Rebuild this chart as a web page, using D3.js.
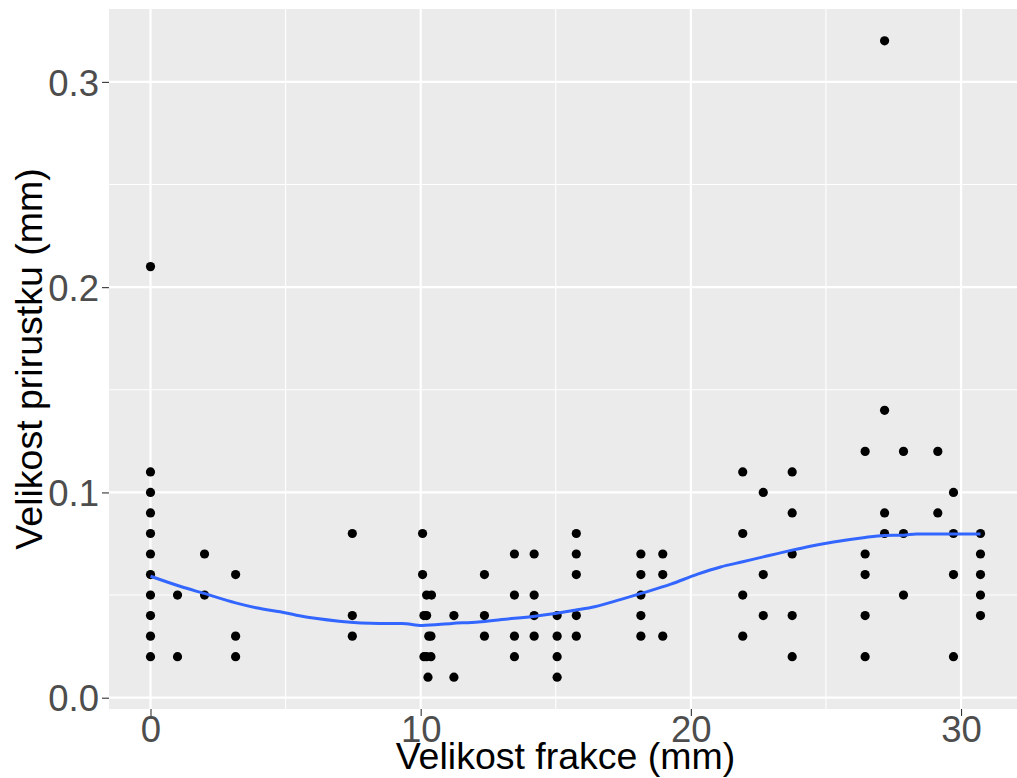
<!DOCTYPE html>
<html>
<head>
<meta charset="utf-8">
<script src="https://cdn.jsdelivr.net/npm/d3@7"></script>
<style>
  html, body { margin: 0; padding: 0; background: #fff; }
  svg { display: block; font-family: "Liberation Sans", Arial, sans-serif; }
</style>
</head>
<body>
<svg width="1017" height="778"></svg>
<script>
var width = 1017;
var height = 778;

// velikost frakce (mm) and velikost prirustku (mm), paired by index
var frakce = [
  0, 0, 0, 0, 0, 0, 0, 0, 0, 0, 0,
  1.0, 1.0,
  2.0, 2.0,
  3.15, 3.15, 3.15,
  7.47, 7.47, 7.47,
  10.07, 10.07, 10.12, 10.12, 10.22, 10.22, 10.22, 10.4, 10.3, 10.38, 10.38, 10.27,
  11.23, 11.23,
  12.36, 12.36, 12.36,
  13.47, 13.47, 13.47, 13.47,
  14.2, 14.2, 14.2, 14.2,
  15.05, 15.05, 15.05, 15.05,
  15.76, 15.76, 15.76, 15.76, 15.76,
  18.15, 18.15, 18.15, 18.15, 18.15,
  18.96, 18.96, 18.96,
  21.92, 21.92, 21.92, 21.92,
  22.68, 22.68, 22.68,
  23.75, 23.75, 23.75, 23.75, 23.75,
  26.45, 26.45, 26.45, 26.45, 26.45,
  27.17, 27.17, 27.17, 27.17,
  27.87, 27.87, 27.87,
  29.14, 29.14,
  29.72, 29.72, 29.72, 29.72,
  30.72, 30.72, 30.72, 30.72, 30.72
];
var prirustek = [
  0.02, 0.03, 0.04, 0.05, 0.06, 0.07, 0.08, 0.09, 0.10, 0.11, 0.21,
  0.02, 0.05,
  0.05, 0.07,
  0.02, 0.03, 0.06,
  0.03, 0.04, 0.08,
  0.06, 0.08, 0.04, 0.02, 0.05, 0.04, 0.02, 0.05, 0.03, 0.02, 0.03, 0.01,
  0.01, 0.04,
  0.03, 0.04, 0.06,
  0.02, 0.03, 0.05, 0.07,
  0.03, 0.04, 0.05, 0.07,
  0.01, 0.02, 0.03, 0.04,
  0.03, 0.04, 0.06, 0.07, 0.08,
  0.03, 0.04, 0.05, 0.06, 0.07,
  0.03, 0.06, 0.07,
  0.03, 0.05, 0.08, 0.11,
  0.04, 0.06, 0.10,
  0.02, 0.04, 0.07, 0.09, 0.11,
  0.02, 0.04, 0.06, 0.07, 0.12,
  0.08, 0.09, 0.14, 0.32,
  0.05, 0.08, 0.12,
  0.09, 0.12,
  0.02, 0.06, 0.08, 0.10,
  0.04, 0.05, 0.06, 0.07, 0.08
];

// loess curve
var smoothX = [0, 1.09, 1.98, 3.15, 3.91, 5.02, 5.51, 6.98, 8.46, 9.31, 10.05, 11.16, 12.14, 13.0,
  14.23, 14.97, 15.7, 16.44, 17.42, 18.16, 19.26, 20.25, 21.1, 21.92, 22.68, 23.75, 24.42,
  25.28, 26.45, 27.17, 27.87, 28.35, 29.72, 30.72];
var smoothY = [0.0592, 0.0543, 0.0508, 0.0462, 0.0438, 0.0413, 0.0399, 0.0373, 0.0362, 0.0362, 0.0352,
  0.0362, 0.0369, 0.0381, 0.0397, 0.0410, 0.0426, 0.0443, 0.0479, 0.0508, 0.0553, 0.0602, 0.0637,
  0.0662, 0.0686, 0.0719, 0.0738, 0.0759, 0.0781, 0.0790, 0.0792, 0.0798, 0.0797, 0.0797];

var xTicks = [0, 10, 20, 30];
var xMinor = [5, 15, 25];
var yTicks = [0.0, 0.1, 0.2, 0.3];
var yMinor = [0.05, 0.15, 0.25];

var panel = {left: 109, right: 1022, top: 9, bottom: 709};

// ggplot style 5% expansion on both sides
var xMax = d3.max(frakce), xMin = d3.min(frakce);
var yMax = d3.max(prirustek), yMin = d3.min(prirustek);
var xPad = (xMax - xMin) * 0.05, yPad = (yMax - yMin) * 0.05;

var x = d3.scaleLinear().domain([xMin - xPad, xMax + xPad]).range([panel.left, panel.right]);
var y = d3.scaleLinear().domain([yMin - yPad, yMax + yPad]).range([panel.bottom, panel.top]);

var svg = d3.select('svg');

svg.append('rect')
  .attr('x', panel.left).attr('y', panel.top)
  .attr('width', panel.right - panel.left).attr('height', panel.bottom - panel.top)
  .attr('fill', '#EBEBEB');

var grid = svg.append('g');
grid.selectAll('.ymin').data(yMinor).enter().append('line')
  .attr('x1', panel.left).attr('x2', panel.right)
  .attr('y1', y).attr('y2', y)
  .attr('stroke', '#fff').attr('stroke-width', 1.1);
grid.selectAll('.xmin').data(xMinor).enter().append('line')
  .attr('y1', panel.top).attr('y2', panel.bottom)
  .attr('x1', x).attr('x2', x)
  .attr('stroke', '#fff').attr('stroke-width', 1.1);
grid.selectAll('.ymaj').data(yTicks).enter().append('line')
  .attr('x1', panel.left).attr('x2', panel.right)
  .attr('y1', y).attr('y2', y)
  .attr('stroke', '#fff').attr('stroke-width', 2.2);
grid.selectAll('.xmaj').data(xTicks).enter().append('line')
  .attr('y1', panel.top).attr('y2', panel.bottom)
  .attr('x1', x).attr('x2', x)
  .attr('stroke', '#fff').attr('stroke-width', 2.2);

// points
svg.append('g').selectAll('circle')
  .data(d3.range(frakce.length))
  .enter().append('circle')
  .attr('cx', function(i) { return x(frakce[i]); })
  .attr('cy', function(i) { return y(prirustek[i]); })
  .attr('r', 4.6)
  .attr('fill', '#000');

// smooth line
var line = d3.line()
  .x(function(i) { return x(smoothX[i]); })
  .y(function(i) { return y(smoothY[i]); })
  .curve(d3.curveMonotoneX);
svg.append('path')
  .datum(d3.range(smoothX.length))
  .attr('d', line)
  .attr('fill', 'none')
  .attr('stroke', '#3366FF')
  .attr('stroke-width', 3);

// axes
var xAxis = svg.append('g')
  .attr('transform', 'translate(0,' + panel.bottom + ')')
  .call(d3.axisBottom(x).tickValues(xTicks).tickSize(7).tickPadding(0).tickFormat(d3.format('d')));
var yAxis = svg.append('g')
  .attr('transform', 'translate(' + panel.left + ',0)')
  .call(d3.axisLeft(y).tickValues(yTicks).tickSize(7).tickPadding(3).tickFormat(d3.format('.1f')));

[xAxis, yAxis].forEach(function(ax) {
  ax.select('.domain').remove();
  ax.selectAll('.tick line').attr('stroke', '#333333').attr('stroke-width', 1.1);
  ax.selectAll('.tick text')
    .attr('fill', '#4D4D4D')
    .style('font-size', '36.5px')
    .style('font-family', '"Liberation Sans", Arial, sans-serif');
});
xAxis.selectAll('.tick text').attr('dy', '0.71em');
yAxis.selectAll('.tick text').attr('dy', '0.36em');

svg.append('text')
  .attr('x', (panel.left + panel.right) / 2)
  .attr('y', 769)
  .attr('text-anchor', 'middle')
  .style('font-size', '37.5px')
  .attr('fill', '#000')
  .text('Velikost frakce (mm)');

svg.append('text')
  .attr('transform', 'translate(42,' + (panel.top + panel.bottom) / 2 + ') rotate(-90)')
  .attr('text-anchor', 'middle')
  .style('font-size', '37.5px')
  .attr('fill', '#000')
  .text('Velikost prirustku (mm)');
</script>
</body>
</html>
